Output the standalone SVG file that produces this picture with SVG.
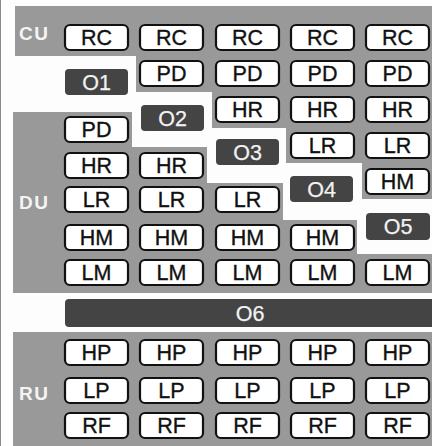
<svg xmlns="http://www.w3.org/2000/svg" width="432" height="446" viewBox="0 0 432 446">
<style>
.bg{fill:#999999}
.n rect{fill:#ffffff;stroke:#111111;stroke-width:2.2}
.n text{fill:#111111;stroke:#111111;stroke-width:0.35;font-family:"Liberation Sans",Arial,sans-serif;font-size:21.5px;text-anchor:middle}
.o rect{fill:#444444}
.o text{fill:#f2f2f2;stroke:#f2f2f2;stroke-width:0.25;font-family:"Liberation Sans",Arial,sans-serif;font-size:21.5px;text-anchor:middle}
.lab{fill:#f4f4f4;font-family:"Liberation Sans",Arial,sans-serif;font-size:19px;font-weight:bold;letter-spacing:1.5px}
</style>
<rect x="0" y="0" width="432" height="446" fill="#fdfdfd"/>
<line x1="0.5" y1="0" x2="0.5" y2="446" stroke="#8a8a8a" stroke-width="1"/>
<g id="regions">
<path class="bg" d="M15,6 H432 V199 H362 V163 H286 V128 H212 V92 H136 V56 H15 Z"/>
<path class="bg" d="M13,112 H132 V147 H207 V183 H283 V220 H357 V254 H432 V293 H13 Z"/>
<rect class="bg" x="13" y="332" width="419" height="114"/>
<text class="lab" x="19" y="40">CU</text>
<text class="lab" x="19" y="209">DU</text>
<text class="lab" x="19" y="400">RU</text>
</g>
<g id="connectors"></g>
<!-- column 1 -->
<g id="c1-rc" class="n"><rect x="65" y="25" width="63" height="25" rx="5"/><text x="96.5" y="45">RC</text></g>
<g id="c1-pd" class="n"><rect x="65" y="117" width="63" height="25" rx="5"/><text x="96.5" y="137">PD</text></g>
<g id="c1-hr" class="n"><rect x="65" y="153" width="63" height="25" rx="5"/><text x="96.5" y="173">HR</text></g>
<g id="c1-lr" class="n"><rect x="65" y="187" width="63" height="25" rx="5"/><text x="96.5" y="207">LR</text></g>
<g id="c1-hm" class="n"><rect x="65" y="225" width="63" height="25" rx="5"/><text x="96.5" y="245">HM</text></g>
<g id="c1-lm" class="n"><rect x="65" y="260" width="63" height="25" rx="5"/><text x="96.5" y="280">LM</text></g>
<g id="c1-hp" class="n"><rect x="65" y="340" width="63" height="25" rx="5"/><text x="96.5" y="360">HP</text></g>
<g id="c1-lp" class="n"><rect x="65" y="378" width="63" height="25" rx="5"/><text x="96.5" y="398">LP</text></g>
<g id="c1-rf" class="n"><rect x="65" y="413" width="63" height="25" rx="5"/><text x="96.5" y="433">RF</text></g>
<!-- column 2 -->
<g id="c2-rc" class="n"><rect x="140" y="25" width="63" height="25" rx="5"/><text x="171.5" y="45">RC</text></g>
<g id="c2-pd" class="n"><rect x="140" y="61" width="63" height="25" rx="5"/><text x="171.5" y="81">PD</text></g>
<g id="c2-hr" class="n"><rect x="140" y="153" width="63" height="25" rx="5"/><text x="171.5" y="173">HR</text></g>
<g id="c2-lr" class="n"><rect x="140" y="187" width="63" height="25" rx="5"/><text x="171.5" y="207">LR</text></g>
<g id="c2-hm" class="n"><rect x="140" y="225" width="63" height="25" rx="5"/><text x="171.5" y="245">HM</text></g>
<g id="c2-lm" class="n"><rect x="140" y="260" width="63" height="25" rx="5"/><text x="171.5" y="280">LM</text></g>
<g id="c2-hp" class="n"><rect x="140" y="340" width="63" height="25" rx="5"/><text x="171.5" y="360">HP</text></g>
<g id="c2-lp" class="n"><rect x="140" y="378" width="63" height="25" rx="5"/><text x="171.5" y="398">LP</text></g>
<g id="c2-rf" class="n"><rect x="140" y="413" width="63" height="25" rx="5"/><text x="171.5" y="433">RF</text></g>
<!-- column 3 -->
<g id="c3-rc" class="n"><rect x="216" y="25" width="63" height="25" rx="5"/><text x="247.5" y="45">RC</text></g>
<g id="c3-pd" class="n"><rect x="216" y="61" width="63" height="25" rx="5"/><text x="247.5" y="81">PD</text></g>
<g id="c3-hr" class="n"><rect x="216" y="97" width="63" height="25" rx="5"/><text x="247.5" y="117">HR</text></g>
<g id="c3-lr" class="n"><rect x="216" y="187" width="63" height="25" rx="5"/><text x="247.5" y="207">LR</text></g>
<g id="c3-hm" class="n"><rect x="216" y="225" width="63" height="25" rx="5"/><text x="247.5" y="245">HM</text></g>
<g id="c3-lm" class="n"><rect x="216" y="260" width="63" height="25" rx="5"/><text x="247.5" y="280">LM</text></g>
<g id="c3-hp" class="n"><rect x="216" y="340" width="63" height="25" rx="5"/><text x="247.5" y="360">HP</text></g>
<g id="c3-lp" class="n"><rect x="216" y="378" width="63" height="25" rx="5"/><text x="247.5" y="398">LP</text></g>
<g id="c3-rf" class="n"><rect x="216" y="413" width="63" height="25" rx="5"/><text x="247.5" y="433">RF</text></g>
<!-- column 4 -->
<g id="c4-rc" class="n"><rect x="291" y="25" width="63" height="25" rx="5"/><text x="322.5" y="45">RC</text></g>
<g id="c4-pd" class="n"><rect x="291" y="61" width="63" height="25" rx="5"/><text x="322.5" y="81">PD</text></g>
<g id="c4-hr" class="n"><rect x="291" y="97" width="63" height="25" rx="5"/><text x="322.5" y="117">HR</text></g>
<g id="c4-lr" class="n"><rect x="291" y="133" width="63" height="25" rx="5"/><text x="322.5" y="153">LR</text></g>
<g id="c4-hm" class="n"><rect x="291" y="225" width="63" height="25" rx="5"/><text x="322.5" y="245">HM</text></g>
<g id="c4-lm" class="n"><rect x="291" y="260" width="63" height="25" rx="5"/><text x="322.5" y="280">LM</text></g>
<g id="c4-hp" class="n"><rect x="291" y="340" width="63" height="25" rx="5"/><text x="322.5" y="360">HP</text></g>
<g id="c4-lp" class="n"><rect x="291" y="378" width="63" height="25" rx="5"/><text x="322.5" y="398">LP</text></g>
<g id="c4-rf" class="n"><rect x="291" y="413" width="63" height="25" rx="5"/><text x="322.5" y="433">RF</text></g>
<!-- column 5 -->
<g id="c5-rc" class="n"><rect x="366" y="25" width="63" height="25" rx="5"/><text x="397.5" y="45">RC</text></g>
<g id="c5-pd" class="n"><rect x="366" y="61" width="63" height="25" rx="5"/><text x="397.5" y="81">PD</text></g>
<g id="c5-hr" class="n"><rect x="366" y="97" width="63" height="25" rx="5"/><text x="397.5" y="117">HR</text></g>
<g id="c5-lr" class="n"><rect x="366" y="133" width="63" height="25" rx="5"/><text x="397.5" y="153">LR</text></g>
<g id="c5-hm" class="n"><rect x="366" y="169" width="63" height="25" rx="5"/><text x="397.5" y="189">HM</text></g>
<g id="c5-lm" class="n"><rect x="366" y="260" width="63" height="25" rx="5"/><text x="397.5" y="280">LM</text></g>
<g id="c5-hp" class="n"><rect x="366" y="340" width="63" height="25" rx="5"/><text x="397.5" y="360">HP</text></g>
<g id="c5-lp" class="n"><rect x="366" y="378" width="63" height="25" rx="5"/><text x="397.5" y="398">LP</text></g>
<g id="c5-rf" class="n"><rect x="366" y="413" width="63" height="25" rx="5"/><text x="397.5" y="433">RF</text></g>
<!-- O nodes -->
<g id="o1" class="o"><rect x="65" y="69" width="63" height="26" rx="4"/><text x="96.5" y="89.5">O1</text></g>
<g id="o2" class="o"><rect x="141" y="105" width="63" height="26" rx="4"/><text x="172.5" y="125.5">O2</text></g>
<g id="o3" class="o"><rect x="216" y="139" width="63" height="26" rx="4"/><text x="247.5" y="159.5">O3</text></g>
<g id="o4" class="o"><rect x="290" y="176" width="63" height="26" rx="4"/><text x="321.5" y="196.5">O4</text></g>
<g id="o5" class="o"><rect x="366" y="213" width="64" height="27" rx="4"/><text x="398" y="234">O5</text></g>
<g id="o6" class="o"><rect x="65" y="299" width="380" height="28" rx="4"/><text x="250" y="320.5">O6</text></g>
</svg>
